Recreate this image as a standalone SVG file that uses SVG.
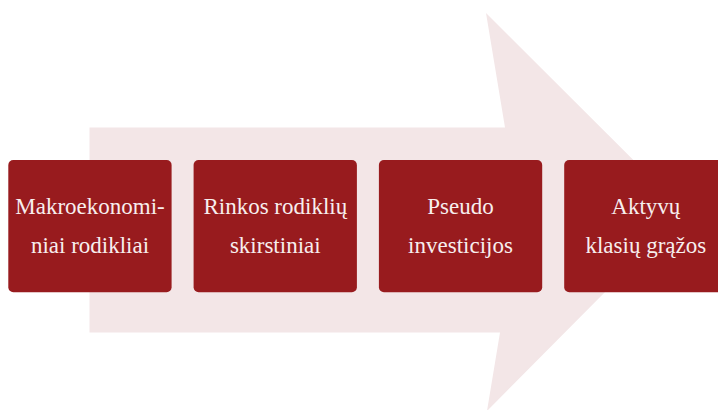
<svg xmlns="http://www.w3.org/2000/svg" width="718" height="410" viewBox="0 0 718 410">
  <style>
    .box { fill: #981b1e; }
    .lbl { fill: #f7eeee; font-family: 'Liberation Serif', 'DejaVu Serif', serif; font-size: 23px; text-anchor: middle; }
  </style>
  <rect width="718" height="410" fill="#ffffff"/>
  <polygon id="arrow" points="89.5,127.5 505,127.5 486,13 685,211.5 487,411 500,332.5 89.5,332.5" fill="#f3e6e7"/>
  <g id="connectors"/>
  <g id="node1">
    <rect class="box" x="8.3" y="160" width="163.3" height="132.3" rx="5"/>
    <text class="lbl" x="90" y="214">Makroekonomi-</text>
    <text class="lbl" x="90" y="253">niai rodikliai</text>
  </g>
  <g id="node2">
    <rect class="box" x="193.6" y="160" width="163.3" height="132.3" rx="5"/>
    <text class="lbl" x="275.3" y="214">Rinkos rodiklių</text>
    <text class="lbl" x="275.3" y="253">skirstiniai</text>
  </g>
  <g id="node3">
    <rect class="box" x="378.9" y="160" width="163.3" height="132.3" rx="5"/>
    <text class="lbl" x="460.5" y="214">Pseudo</text>
    <text class="lbl" x="460.5" y="253">investicijos</text>
  </g>
  <g id="node4">
    <rect class="box" x="564.2" y="160" width="163.3" height="132.3" rx="5"/>
    <text class="lbl" x="645.8" y="214">Aktyvų</text>
    <text class="lbl" x="645.8" y="253">klasių grąžos</text>
  </g>
</svg>
